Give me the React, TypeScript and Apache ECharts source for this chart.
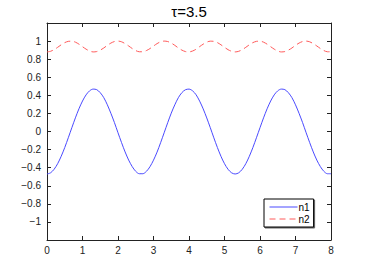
import React, { useEffect, useRef } from "react";
import * as echarts from "echarts";

const titleText = "τ=3.5";
const tValues = [
  0, 0.1, 0.2, 0.3, 0.4, 0.5, 0.6, 0.7, 0.8, 0.9, 1, 1.1, 1.2, 1.3, 1.4, 1.5, 1.6, 1.7, 1.8, 1.9,
  2, 2.1, 2.2, 2.3, 2.4, 2.5, 2.6, 2.7, 2.8, 2.9, 3, 3.1, 3.2, 3.3, 3.4, 3.5, 3.6, 3.7, 3.8, 3.9,
  4, 4.1, 4.2, 4.3, 4.4, 4.5, 4.6, 4.7, 4.8, 4.9, 5, 5.1, 5.2, 5.3, 5.4, 5.5, 5.6, 5.7, 5.8, 5.9,
  6, 6.1, 6.2, 6.3, 6.4, 6.5, 6.6, 6.7, 6.8, 6.9, 7, 7.1, 7.2, 7.3, 7.4, 7.5, 7.6, 7.7, 7.8, 7.9, 8,
];
const n1Values = [
  -0.47, -0.457, -0.418, -0.356, -0.274, -0.177, -0.069, 0.042, 0.151, 0.251,
  0.337, 0.405, 0.45, 0.469, 0.463, 0.429, 0.374, 0.295, 0.201, 0.098,
  -0.014, -0.123, -0.226, -0.316, -0.388, -0.441, -0.467, -0.467, -0.441, -0.39,
  -0.317, -0.228, -0.124, -0.014, 0.097, 0.203, 0.295, 0.374, 0.43, 0.462,
  0.469, 0.45, 0.406, 0.336, 0.25, 0.15, 0.042, -0.07, -0.177, -0.274,
  -0.356, -0.418, -0.457, -0.47, -0.457, -0.418, -0.356, -0.274, -0.177, -0.069,
  0.042, 0.151, 0.251, 0.337, 0.405, 0.45, 0.469, 0.463, 0.429, 0.374,
  0.295, 0.201, 0.098, -0.014, -0.123, -0.226, -0.316, -0.388, -0.441, -0.467, -0.467,
];
const n2Values = [
  0.88, 0.887, 0.905, 0.931, 0.959, 0.983, 0.997, 0.999, 0.988, 0.966,
  0.938, 0.911, 0.89, 0.88, 0.884, 0.9, 0.924, 0.953, 0.978, 0.995,
  1.0, 0.992, 0.972, 0.946, 0.918, 0.895, 0.882, 0.882, 0.895, 0.917,
  0.945, 0.972, 0.992, 1.0, 0.995, 0.978, 0.953, 0.924, 0.9, 0.884,
  0.88, 0.89, 0.91, 0.939, 0.966, 0.988, 0.999, 0.997, 0.983, 0.959,
  0.931, 0.905, 0.887, 0.88, 0.887, 0.905, 0.931, 0.959, 0.983, 0.997,
  0.999, 0.988, 0.966, 0.938, 0.911, 0.89, 0.88, 0.884, 0.9, 0.924,
  0.953, 0.978, 0.995, 1.0, 0.992, 0.972, 0.946, 0.918, 0.895, 0.882, 0.882,
];
const seriesNames = ["n1", "n2"];

const FONT = "Liberation Sans, Arial, Helvetica, sans-serif";
const AXIS = "#222";
const BLUE = "#4a4aff";
const RED = "#ff5a5a";

function fmtY(v: number): string {
  if (Math.abs(v) > 1.05) return "";
  const r = Math.round(v * 10) / 10;
  if (Math.abs(r) < 1e-9) return "0";
  const s = String(Math.abs(r));
  return r < 0 ? "\u2212" + s : s;
}

export default function App() {
  const ref = useRef<HTMLDivElement>(null);
  useEffect(() => {
    if (!ref.current) return;
    const chart = echarts.init(ref.current, undefined, { renderer: "svg" });
    const n1 = tValues.map((t, i) => [t, n1Values[i]]);
    const n2 = tValues.map((t, i) => [t, n2Values[i]]);
    const baseX = {
      type: "value" as const,
      min: 0,
      max: 8,
      interval: 1,
      axisLine: { show: true, onZero: false, lineStyle: { color: AXIS, width: 1 } },
      axisTick: { show: true, inside: true, length: 4, lineStyle: { color: AXIS } },
      splitLine: { show: false },
    };
    const baseY = {
      type: "value" as const,
      min: -1.2,
      max: 1.2,
      interval: 0.2,
      axisLine: { show: true, onZero: false, lineStyle: { color: AXIS, width: 1 } },
      axisTick: { show: true, inside: true, length: 4, lineStyle: { color: AXIS } },
      splitLine: { show: false },
    };
    chart.setOption({
      animation: false,
      backgroundColor: "#fff",
      graphic: [
        {
          type: "text",
          x: 189,
          y: 11,
          style: {
            text: titleText,
            font: `15px ${FONT}`,
            fill: "#000",
            textAlign: "center",
            textVerticalAlign: "middle",
          },
        },
      ],
      grid: { left: 47, right: 35, top: 23, bottom: 31 },
      xAxis: [
        {
          ...baseX,
          position: "bottom",
          axisLabel: { show: true, margin: 5, fontSize: 10, color: AXIS, fontFamily: FONT },
        },
        { ...baseX, position: "top", axisLabel: { show: false } },
      ],
      yAxis: [
        {
          ...baseY,
          position: "left",
          axisLabel: {
            show: true,
            margin: 6,
            fontSize: 10,
            color: AXIS,
            fontFamily: FONT,
            formatter: (v: number) => fmtY(v),
          },
        },
        { ...baseY, position: "right", axisLabel: { show: false } },
      ],
      legend: {
        left: 264,
        top: 199,
        orient: "vertical",
        data: seriesNames,
        backgroundColor: "#fff",
        borderColor: "#000",
        borderWidth: 1,
        borderRadius: 0,
        shadowColor: "rgba(0,0,0,0.6)",
        shadowOffsetX: 1,
        shadowOffsetY: 1,
        shadowBlur: 0,
        padding: [3, 4, 3, 5],
        itemWidth: 28,
        itemHeight: 10,
        itemGap: 2,
        itemStyle: { opacity: 0 },
        lineStyle: { width: 1 },
        textStyle: { fontSize: 10, color: "#000", fontFamily: FONT, padding: [0, 0, 0, -4] },
      },
      series: [
        {
          name: seriesNames[0],
          type: "line",
          data: n1,
          smooth: 0.3,
          symbol: "none",
          lineStyle: { color: BLUE, width: 1 },
          itemStyle: { color: BLUE },
        },
        {
          name: seriesNames[1],
          type: "line",
          data: n2,
          smooth: 0.3,
          symbol: "none",
          lineStyle: { color: RED, width: 1, type: [6, 4] },
          itemStyle: { color: RED },
        },
      ],
    });
    return () => chart.dispose();
  }, []);
  return (
    <div
      ref={ref}
      style={{ position: "fixed", left: 0, top: 0, width: 366, height: 271, background: "#fff" }}
    />
  );
}
